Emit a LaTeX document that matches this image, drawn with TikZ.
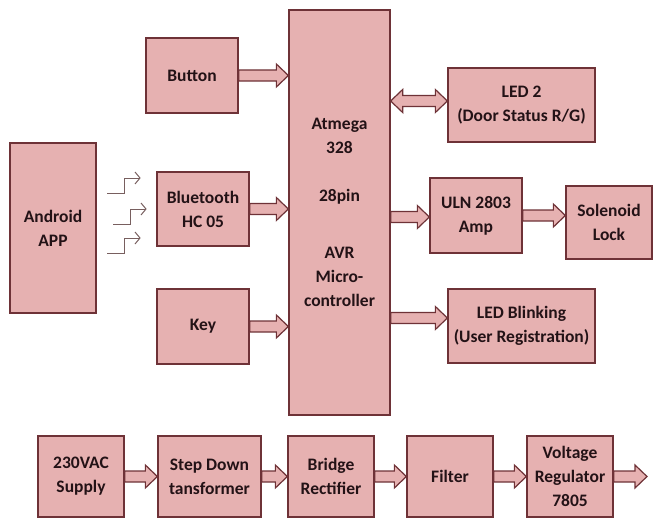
\documentclass[tikz,border=0pt]{standalone}
\usepackage{fontspec}
\setmainfont{Carlito}
\usetikzlibrary{calc}

\definecolor{boxfill}{RGB}{230,177,177}
\definecolor{boxline}{RGB}{110,50,55}
\definecolor{boxtext}{RGB}{35,18,22}
\definecolor{sigline}{RGB}{120,95,95}

% block arrow, y taken from the start point
\newcommand{\fatarrow}[2]{%
  \draw[fat] let \p1=(#1), \p2=(#2) in
    (\x1,\y1+5.5pt) -- (\x2-12pt,\y1+5.5pt) -- (\x2-12pt,\y1+11.5pt) -- (\x2,\y1)
    -- (\x2-12pt,\y1-11.5pt) -- (\x2-12pt,\y1-5.5pt) -- (\x1,\y1-5.5pt) -- cycle;}
\newcommand{\fatdarrow}[2]{%
  \draw[fat] let \p1=(#1), \p2=(#2) in
    (\x1,\y1) -- (\x1+12pt,\y1+11.5pt) -- (\x1+12pt,\y1+5.5pt) -- (\x2-12pt,\y1+5.5pt)
    -- (\x2-12pt,\y1+11.5pt) -- (\x2,\y1) -- (\x2-12pt,\y1-11.5pt) -- (\x2-12pt,\y1-5.5pt)
    -- (\x1+12pt,\y1-5.5pt) -- (\x1+12pt,\y1-11.5pt) -- cycle;}

\begin{document}
\begin{tikzpicture}[
  x=1pt, y=-1pt,
  blk/.style={rectangle,draw=boxline,fill=boxfill,line width=1.3pt,align=center,
    text=boxtext,inner sep=0pt,font=\fontsize{17.5}{24}\selectfont\bfseries},
  fat/.style={draw=boxline,fill=boxfill,line width=1.2pt,line join=miter},
  sig/.style={draw=sigline,line width=1pt,line join=miter}
]
  \useasboundingbox (0,0) rectangle (653,519);

  \node[blk,minimum width=101pt,minimum height=405pt] (mcu) at (339.5,212.5)
    {Atmega\\328\\[24pt]28pin\\[33pt]AVR\\Micro-\\controller};

  \node[blk,minimum width=92pt,minimum height=75pt]  (button)  at (192,75.5)  {Button};
  \node[blk,minimum width=86pt,minimum height=170pt] (android) at (53,228)    {Android\\APP};
  \node[blk,minimum width=92pt,minimum height=74pt]  (bt)      at (203,209)   {Bluetooth\\HC 05};
  \node[blk,minimum width=92pt,minimum height=75pt]  (key)     at (203,326.5) {Key};

  \node[blk,minimum width=147pt,minimum height=74pt] (led2)  at (521.5,105)   {LED 2\\(Door Status R/G)};
  \node[blk,minimum width=92pt,minimum height=75pt]  (uln)   at (476,215.5)   {ULN 2803\\Amp};
  \node[blk,minimum width=86pt,minimum height=73pt]  (sol)   at (609,222.5)   {Solenoid\\Lock};
  \node[blk,minimum width=147pt,minimum height=74pt] (blink) at (521.5,326)   {LED Blinking\\(User Registration)};

  \node[blk,minimum width=86pt,minimum height=81pt]  (supply) at (81,476.5)    {230VAC\\Supply};
  \node[blk,minimum width=103pt,minimum height=81pt] (stepdn) at (209.5,476.5) {Step Down\\tansformer};
  \node[blk,minimum width=86pt,minimum height=81pt]  (bridge) at (331,476.5)   {Bridge\\Rectifier};
  \node[blk,minimum width=86pt,minimum height=81pt]  (filter) at (450,476.5)   {Filter};
  \node[blk,minimum width=86pt,minimum height=81pt]  (vreg)   at (570,476.5)   {Voltage\\Regulator\\7805};
  \coordinate (out) at (647,476);

  % wireless links from the app
  \foreach \sx/\sy in {107/193, 113/224, 107/253} {
    \draw[sig] (\sx,\sy) -- ++(17,0) -- ++(0,-15) -- ++(16,0);
    \draw[sig] (\sx+28,\sy-21) -- (\sx+33,\sy-15) -- (\sx+28,\sy-9);
  }

  \fatarrow{button.east}{mcu.west}
  \fatarrow{bt.east}{mcu.west}
  \fatarrow{key.east}{mcu.west}

  \fatdarrow{$(mcu.east |- led2.west)+(0,-4)$}{led2.west}
  \fatarrow{$(mcu.east |- uln.west)+(0,1.5)$}{uln.west}
  \fatarrow{uln.east}{sol.west}
  \fatarrow{$(mcu.east |- blink.west)+(0,-8)$}{blink.west}

  \fatarrow{supply.east}{stepdn.west}
  \fatarrow{stepdn.east}{bridge.west}
  \fatarrow{bridge.east}{filter.west}
  \fatarrow{filter.east}{vreg.west}
  \fatarrow{vreg.east}{out}
\end{tikzpicture}
\end{document}
